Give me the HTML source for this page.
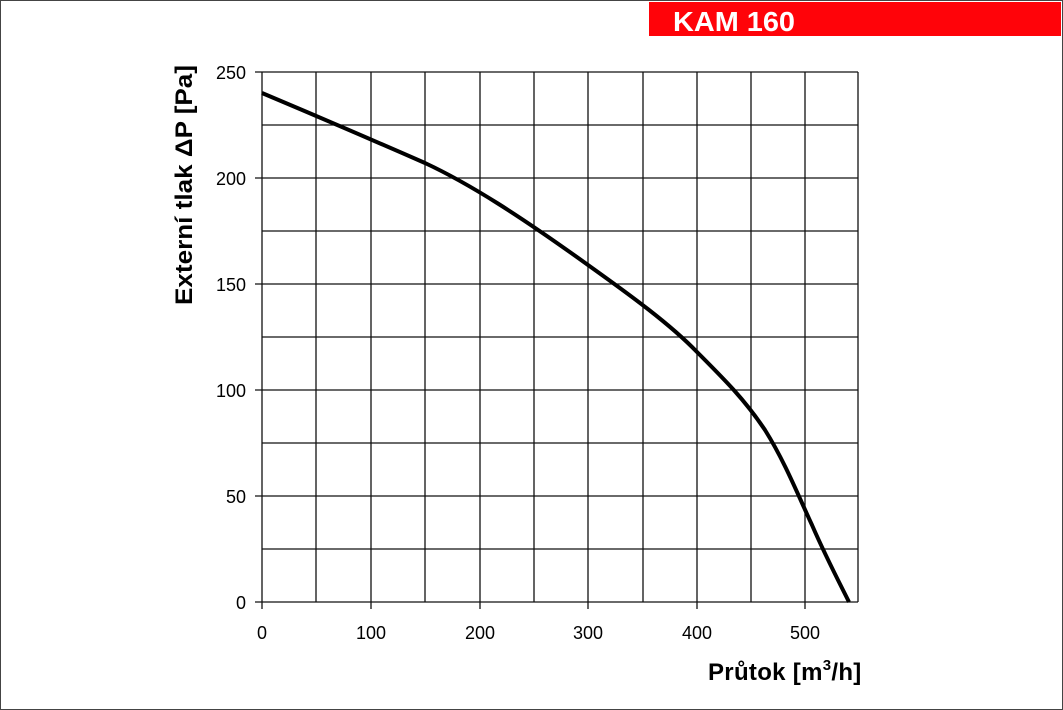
<!DOCTYPE html>
<html><head><meta charset="utf-8"><style>
html,body{margin:0;padding:0;background:#fff}
svg{display:block}
text{font-family:"Liberation Sans",Arial,sans-serif}
</style></head><body>
<svg width="1063" height="710" viewBox="0 0 1063 710" xmlns="http://www.w3.org/2000/svg">
<rect x="0.5" y="0.5" width="1062" height="709" fill="#fff" stroke="#444" stroke-width="1"/>
<rect x="649" y="2" width="412" height="34" fill="#ff0309"/>
<text x="673" y="31" font-size="28" font-weight="bold" fill="#fff" textLength="122" lengthAdjust="spacingAndGlyphs">KAM 160</text>
<g stroke="#111" stroke-width="1.3" fill="none">
<path d="M262 72V602M316 72V602M371 72V602M425 72V602M480 72V602M534 72V602M588 72V602M643 72V602M697 72V602M751 72V602M805 72V602M858 72V602"/>
<path d="M255 72H858M262 125H858M255 178H858M262 231H858M255 284H858M262 337H858M255 390H858M262 443H858M255 496H858M262 549H858M255 602H858"/>
<path d="M262 602V609M371 602V609M480 602V609M588 602V609M697 602V609M805 602V609"/>
</g>
<path d="M262 93 C300 109,345 128,425 163 C470 184,520 216,588 265 C630 295,670 324,697 352 C725 380,745 400,765 430 C785 462,798 495,812 525 C825 555,838 580,849 602" fill="none" stroke="#000" stroke-width="4"/>
<g font-size="18" fill="#000" text-anchor="end">
<text x="246" y="79">250</text><text x="246" y="185">200</text><text x="246" y="291">150</text>
<text x="246" y="397">100</text><text x="246" y="503">50</text><text x="246" y="609">0</text>
</g>
<g font-size="18" fill="#000" text-anchor="middle">
<text x="262" y="639">0</text><text x="371" y="639">100</text><text x="480" y="639">200</text>
<text x="588" y="639">300</text><text x="697" y="639">400</text><text x="805" y="639">500</text>
</g>
<text x="708" y="680" font-size="24" font-weight="bold" letter-spacing="0.3">Průtok [m<tspan font-size="15" dy="-10">3</tspan><tspan dy="10">/h]</tspan></text>
<text transform="translate(192,305) rotate(-90)" font-size="24" font-weight="bold" textLength="240" lengthAdjust="spacingAndGlyphs">Externí tlak  ΔP [Pa]</text>
</svg>
</body></html>
